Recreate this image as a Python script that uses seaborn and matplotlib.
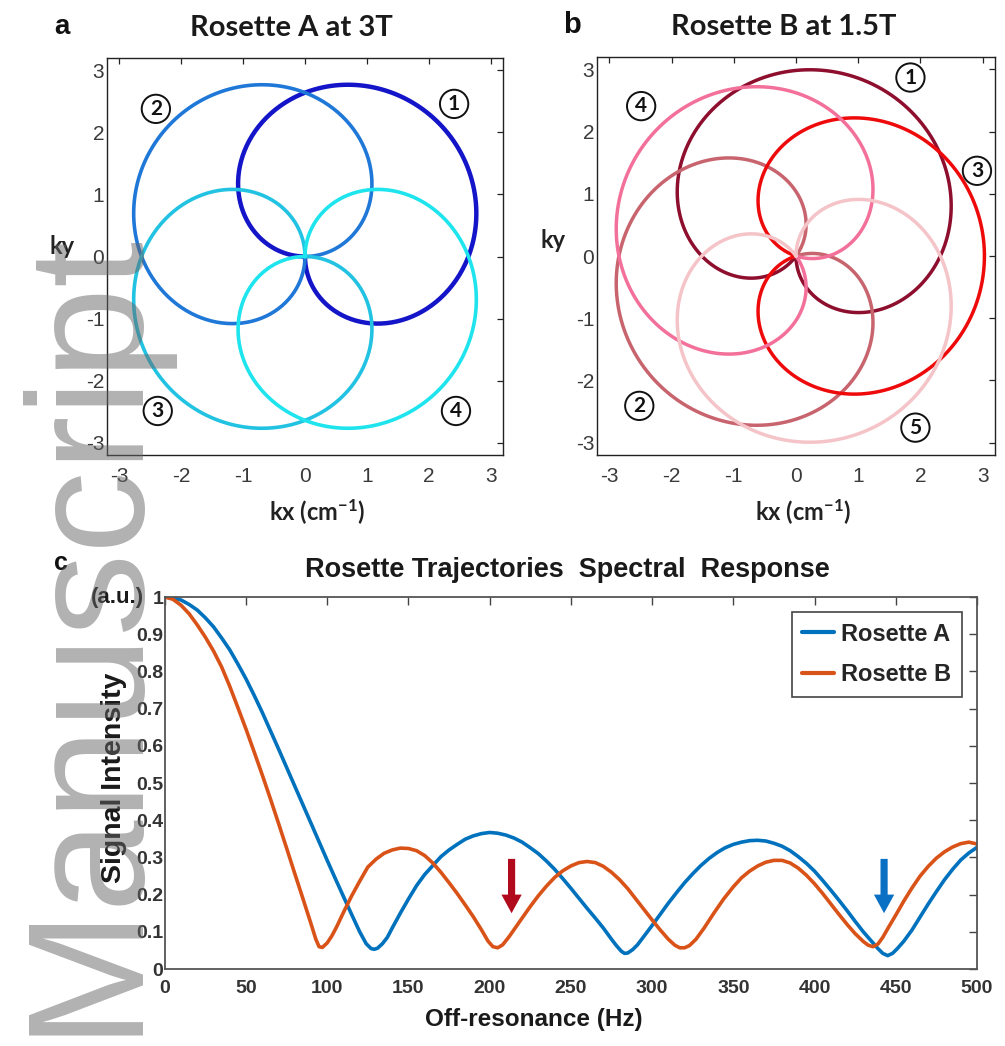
import numpy as np
import pandas as pd
import matplotlib
matplotlib.use("Agg")
import matplotlib.pyplot as plt
import seaborn as sns

# ---------------- rosette trajectory parameters ----------------
# petal axis directions (deg) in acquisition order, peak |k| (1/cm), w2/w1 ratio
rosette_a_petal_angles = [45, 135, 225, 315]
rosette_a_colors = ["#1414C8", "#1F78D8", "#22C2E2", "#1EE4EE"]
rosette_a_widths = [3.2, 2.6, 2.6, 2.6]
rosette_a_kmax = 3.05
rosette_a_freq_ratio = 1.5
rosette_a_label_x = [2.41, -2.41, -2.38, 2.44]
rosette_a_label_y = [2.46, 2.38, -2.49, -2.49]

rosette_b_petal_angles = [72, 216, 0, 144, 288]
rosette_b_colors = ["#8E0E2E", "#C8646E", "#EE0A0A", "#F2709A", "#F4C4C8"]
rosette_b_widths = [2.5, 2.5, 2.5, 2.5, 2.5]
rosette_b_kmax = 3.03
rosette_b_freq_ratio = 1.8
rosette_b_label_x = [1.84, -2.52, 2.91, -2.49, 1.92]
rosette_b_label_y = [2.87, -2.41, 1.37, 2.41, -2.76]

k_ticks = [-3, -2, -1, 0, 1, 2, 3]

# ---------------- spectral response ----------------
freq_a = [0, 5, 10, 15, 20, 25, 30, 35, 40, 45, 50, 55, 60, 65, 70, 75, 80, 85, 90,
          95, 100, 105, 110, 115, 120, 124, 127, 129, 131, 134, 137, 140, 145, 150,
          155, 160, 165, 170, 175, 180, 185, 190, 195, 200, 205, 210, 215, 220, 225,
          230, 235, 240, 245, 250, 255, 260, 265, 270, 275, 278, 281, 283, 285, 288,
          291, 295, 300, 305, 310, 315, 320, 325, 330, 335, 340, 345, 350, 355, 360,
          365, 370, 375, 380, 385, 390, 395, 400, 405, 410, 415, 420, 425, 430, 435,
          439, 442, 445, 448, 451, 455, 460, 465, 470, 475, 480, 485, 490, 495, 500]
signal_a = [1.000, 0.998, 0.992, 0.980, 0.965, 0.944, 0.920, 0.890, 0.858, 0.820,
            0.780, 0.736, 0.690, 0.641, 0.592, 0.542, 0.492, 0.442, 0.392, 0.342,
            0.292, 0.243, 0.195, 0.147, 0.100, 0.068, 0.055, 0.053, 0.056, 0.068,
            0.085, 0.110, 0.150, 0.188, 0.224, 0.254, 0.278, 0.302, 0.320, 0.335,
            0.349, 0.358, 0.364, 0.367, 0.365, 0.360, 0.352, 0.341, 0.326, 0.310,
            0.290, 0.268, 0.243, 0.217, 0.190, 0.163, 0.137, 0.110, 0.080, 0.063,
            0.048, 0.042, 0.043, 0.052, 0.065, 0.088, 0.117, 0.147, 0.177, 0.205,
            0.232, 0.256, 0.278, 0.297, 0.313, 0.326, 0.335, 0.341, 0.345, 0.346,
            0.344, 0.338, 0.330, 0.318, 0.302, 0.284, 0.263, 0.238, 0.212, 0.185,
            0.157, 0.128, 0.100, 0.075, 0.055, 0.042, 0.036, 0.042, 0.055, 0.075,
            0.105, 0.140, 0.175, 0.208, 0.240, 0.268, 0.293, 0.312, 0.327]

freq_b = [0, 5, 10, 15, 20, 25, 30, 35, 40, 45, 50, 55, 60, 65, 70, 75, 80, 85, 90,
          93, 95, 97, 100, 103, 106, 110, 115, 120, 125, 130, 135, 140, 145, 150, 155,
          160, 165, 170, 175, 180, 185, 190, 195, 199, 202, 205, 208, 212, 216, 220,
          225, 230, 235, 240, 245, 250, 255, 260, 265, 270, 275, 280, 285, 290, 295,
          300, 305, 310, 314, 317, 320, 323, 327, 332, 338, 344, 350, 355, 360, 365,
          370, 375, 380, 385, 390, 395, 400, 405, 410, 415, 420, 425, 430, 433, 436,
          439, 442, 445, 450, 455, 460, 465, 470, 475, 480, 485, 490, 495, 500]
signal_b = [1.000, 0.994, 0.978, 0.955, 0.925, 0.892, 0.855, 0.812, 0.760, 0.703,
            0.645, 0.584, 0.522, 0.458, 0.392, 0.325, 0.257, 0.190, 0.122, 0.080,
            0.060, 0.058, 0.070, 0.090, 0.115, 0.152, 0.196, 0.236, 0.274, 0.295,
            0.311, 0.320, 0.325, 0.324, 0.318, 0.305, 0.285, 0.260, 0.232, 0.203,
            0.172, 0.140, 0.105, 0.075, 0.060, 0.057, 0.065, 0.087, 0.112, 0.137,
            0.168, 0.197, 0.223, 0.246, 0.264, 0.277, 0.286, 0.289, 0.286, 0.276,
            0.260, 0.240, 0.216, 0.188, 0.160, 0.132, 0.105, 0.080, 0.064, 0.057,
            0.057, 0.063, 0.080, 0.110, 0.150, 0.188, 0.221, 0.245, 0.263, 0.277,
            0.287, 0.292, 0.292, 0.285, 0.271, 0.252, 0.229, 0.203, 0.175, 0.147,
            0.120, 0.095, 0.074, 0.064, 0.060, 0.067, 0.085, 0.108, 0.145, 0.183,
            0.218, 0.250, 0.276, 0.298, 0.315, 0.328, 0.337, 0.341, 0.336]

series_names = ["Rosette A", "Rosette B"]
series_colors = ["#0072BD", "#D95319"]

freq_ticks = [0, 50, 100, 150, 200, 250, 300, 350, 400, 450, 500]
signal_ticks = [0, 0.1, 0.2, 0.3, 0.4, 0.5, 0.6, 0.7, 0.8, 0.9, 1.0]
signal_tick_labels = ["0", "0.1", "0.2", "0.3", "0.4", "0.5", "0.6", "0.7", "0.8", "0.9", "1"]

# null markers: frequency, arrow top, arrow tip, colour
arrow_freq = [213.5, 442.8]
arrow_top = [0.296, 0.296]
arrow_tip = [0.15, 0.15]
arrow_colors = ["#B00A1C", "#0A70C4"]

# ---------------- styling ----------------
sns.set_theme(style="white")
plt.rcParams["font.family"] = ["Liberation Sans", "DejaVu Sans"]
plt.rcParams["axes.unicode_minus"] = False
plt.rcParams["mathtext.fontset"] = "custom"
plt.rcParams["mathtext.rm"] = "Lato:bold"
plt.rcParams["mathtext.bf"] = "Lato:bold"
plt.rcParams["mathtext.default"] = "rm"

W, H = 1005, 1046
fig = plt.figure(figsize=(W / 100, H / 100), dpi=100)
fig.patch.set_facecolor("white")


def axes_px(left, top, right, bottom):
    return fig.add_axes([left / W, 1 - bottom / H, (right - left) / W, (bottom - top) / H])


def ftext(xp, yp, s, **kw):
    return fig.text(xp / W, 1 - yp / H, s, **kw)


def petal_frame(angles, kmax, ratio):
    u = np.linspace(-np.pi / 2, np.pi / 2, 400)
    parts = []
    for i, ang in enumerate(angles):
        r = kmax * np.cos(u)
        th = np.deg2rad(ang) + ratio * u
        parts.append(pd.DataFrame({"kx": r * np.cos(th), "ky": r * np.sin(th),
                                   "petal": i + 1}))
    return pd.concat(parts, ignore_index=True)


def draw_rosette(ax, df, colors, widths, lab_x, lab_y):
    for i, col in enumerate(colors):
        sub = df[df["petal"] == i + 1]
        sns.lineplot(data=sub, x="kx", y="ky", sort=False, estimator=None,
                     color=col, linewidth=widths[i], ax=ax, legend=False)
    for i, (lx, ly) in enumerate(zip(lab_x, lab_y)):
        ax.text(lx, ly, str(i + 1), ha="center", va="center", fontsize=15,
                fontweight="bold", family=["Lato", "DejaVu Sans"], color="#111111",
                bbox=dict(boxstyle="circle,pad=0.2", fc="none", ec="#111111", lw=1.4))
    ax.set_xlim(-3.2, 3.2)
    ax.set_ylim(-3.2, 3.2)
    ax.set_xticks(k_ticks)
    ax.set_yticks(k_ticks)
    ax.tick_params(direction="in", top=True, right=True, length=4, width=0.9,
                   labelsize=15, labelcolor="#3a3a3a", color="#222222")
    ax.tick_params(axis="x", pad=9)
    ax.tick_params(axis="y", pad=2)
    for sp in ax.spines.values():
        sp.set_color("#222222")
        sp.set_linewidth(1.0)
    ax.set_xlabel(r"kx (cm$^{-1}$)", fontsize=17, fontweight="bold",
                  family=["Lato", "DejaVu Sans"], color="#222222")
    ax.set_ylabel("ky", fontsize=17, fontweight="bold", rotation=0,
                  family=["Lato", "DejaVu Sans"], color="#222222",
                  ha="center", va="center")


# ---------------- panel a ----------------
ax_a = axes_px(107, 58, 503, 455)
draw_rosette(ax_a, petal_frame(rosette_a_petal_angles, rosette_a_kmax, rosette_a_freq_ratio),
             rosette_a_colors, rosette_a_widths, rosette_a_label_x, rosette_a_label_y)
ax_a.xaxis.set_label_coords((317 - 107) / 396, (455 - 497) / 397)
ax_a.yaxis.set_label_coords((62 - 107) / 396, (455 - 247) / 397)

# ---------------- panel b ----------------
ax_b = axes_px(597, 57, 995, 455)
draw_rosette(ax_b, petal_frame(rosette_b_petal_angles, rosette_b_kmax, rosette_b_freq_ratio),
             rosette_b_colors, rosette_b_widths, rosette_b_label_x, rosette_b_label_y)
ax_b.xaxis.set_label_coords((803 - 597) / 398, (455 - 497) / 398)
ax_b.yaxis.set_label_coords((553 - 597) / 398, (455 - 240) / 398)

ftext(291.7, 28, "Rosette A at 3T", ha="center", va="center", fontsize=21,
      fontweight="bold", family=["Lato", "DejaVu Sans"], color="#1a1a1a")
ftext(784, 27, "Rosette B at 1.5T", ha="center", va="center", fontsize=21,
      fontweight="bold", family=["Lato", "DejaVu Sans"], color="#1a1a1a")
ftext(62, 27, "a", ha="center", va="center", fontsize=20, fontweight="bold", color="#111111")
ftext(572, 25, "b", ha="center", va="center", fontsize=21, fontweight="bold", color="#111111")

# ---------------- panel c ----------------
ax_c = axes_px(164.75, 597, 977, 969)
spec = pd.concat([
    pd.DataFrame({"freq": freq_a, "signal": signal_a, "series": series_names[0]}),
    pd.DataFrame({"freq": freq_b, "signal": signal_b, "series": series_names[1]}),
], ignore_index=True)
sns.lineplot(data=spec, x="freq", y="signal", hue="series", palette=series_colors,
             hue_order=series_names, linewidth=2.6, estimator=None, ax=ax_c,
             solid_joinstyle="round", solid_capstyle="round")

for fx, yt, yb, col in zip(arrow_freq, arrow_top, arrow_tip, arrow_colors):
    ax_c.arrow(fx, yt, 0, yb - yt, width=4.4, head_width=12.5, head_length=0.05,
               length_includes_head=True, fc=col, ec="none", zorder=5)

ax_c.set_xlim(0, 500)
ax_c.set_ylim(0, 1)
ax_c.set_xticks(freq_ticks)
ax_c.set_xticklabels([str(v) for v in freq_ticks], fontweight="bold")
ax_c.set_yticks(signal_ticks)
ax_c.set_yticklabels(signal_tick_labels, fontweight="bold")
ax_c.tick_params(direction="in", top=True, right=True, length=6, width=1.0,
                 labelsize=14, labelcolor="#333333", color="#444444")
ax_c.tick_params(axis="x", pad=8)
ax_c.tick_params(axis="y", pad=1)
for sp in ax_c.spines.values():
    sp.set_color("#555555")
    sp.set_linewidth(1.3)

ax_c.set_xlabel("Off-resonance (Hz)", fontsize=17.5, fontweight="bold", color="#1a1a1a")
ax_c.xaxis.set_label_coords((534 - 164.75) / 812.25, (969 - 1008) / 372)
ax_c.set_ylabel("Signal Intensity", fontsize=20.5, fontweight="bold", color="#1a1a1a")
ax_c.yaxis.set_label_coords((127 - 164.75) / 812.25, (969 - 778) / 372)
ax_c.text((117 - 164.75) / 812.25, (969 - 597) / 372, "(a.u.)", transform=ax_c.transAxes,
          ha="center", va="center", fontsize=16, fontweight="bold", color="#1a1a1a")

ax_c.legend(loc="upper right", bbox_to_anchor=(0.9815, 0.96), frameon=True,
            fancybox=False, edgecolor="#444444", framealpha=1,
            prop={"weight": "bold", "size": 17}, handlelength=1.35,
            handletextpad=0.3, labelspacing=0.75, borderpad=0.45, borderaxespad=0)
leg = ax_c.get_legend()
leg.get_frame().set_linewidth(1.2)
leg.set_title(None)
for ln in leg.get_lines():
    ln.set_linewidth(3)

ftext(567.5, 570, "Rosette Trajectories  Spectral  Response", ha="center", va="center",
      fontsize=19.5, fontweight="bold", color="#1a1a1a")
ftext(61, 563, "c", ha="center", va="center", fontsize=18, fontweight="bold", color="#111111")

# ---------------- watermark ----------------
ftext(131, 1035, "Manuscript", rotation=90, rotation_mode="anchor", ha="left",
      va="baseline", fontsize=119, color="#666666", alpha=0.5, zorder=100,
      family=["Liberation Sans", "DejaVu Sans"])

fig.savefig("out.png", dpi=100, facecolor="white")
